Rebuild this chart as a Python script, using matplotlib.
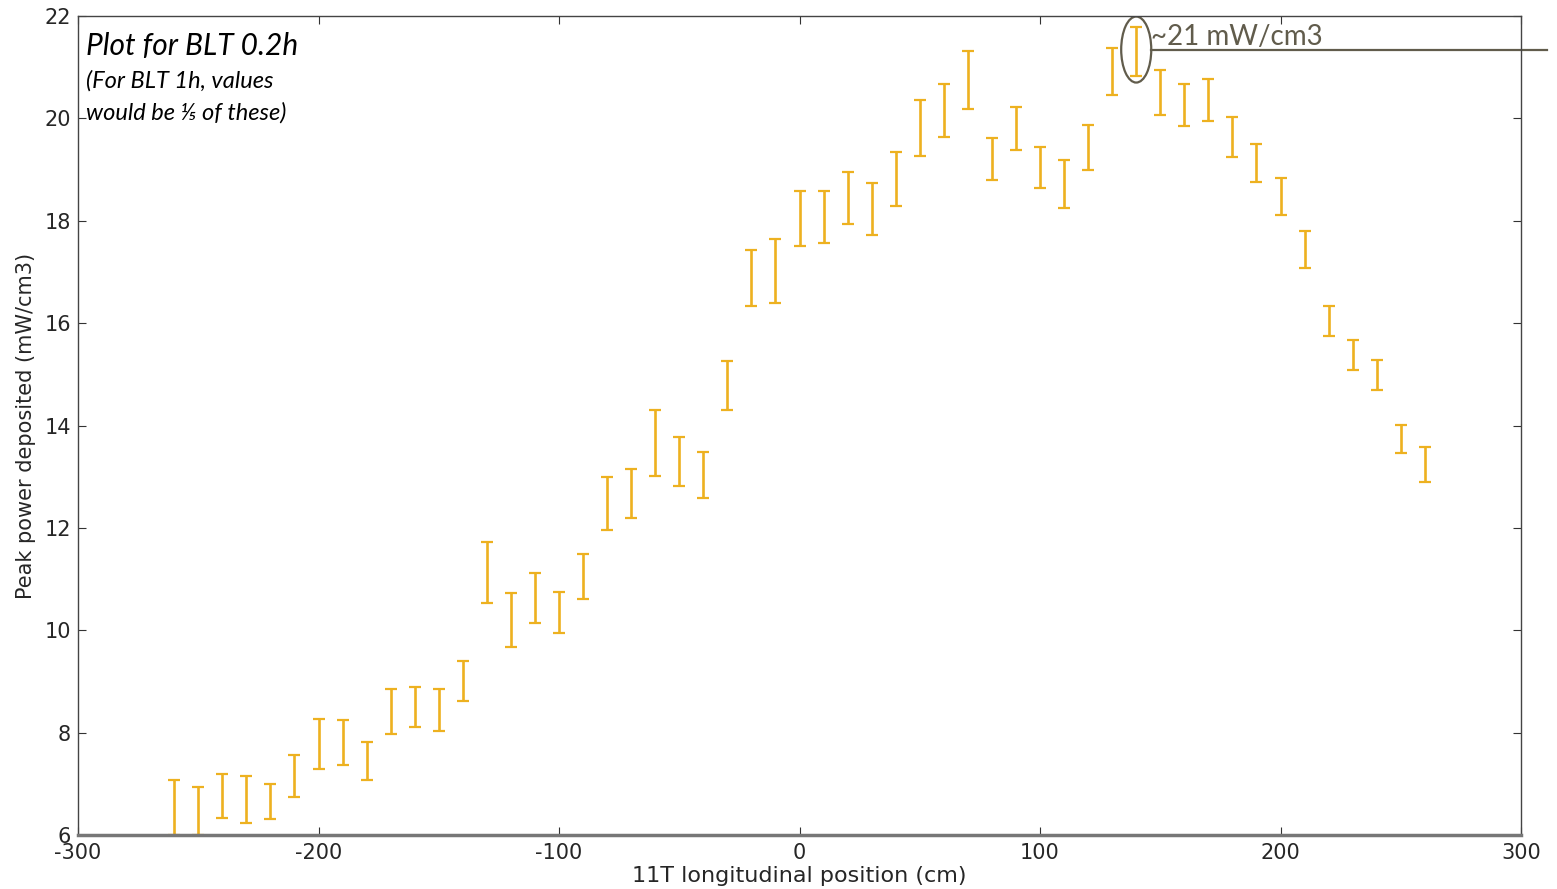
"""
Peak power deposited along the 11T magnet, BLT 0.2h
"""
import numpy as np
from matplotlib import pyplot as plt
from matplotlib.patches import Ellipse

# positions along the magnet (cm)
position = [-260, -250, -240, -230, -220, -210, -200, -190, -180, -170,
            -160, -150, -140, -130, -120, -110, -100, -90, -80, -70,
            -60, -50, -40, -30, -20, -10, 0, 10, 20, 30,
            40, 50, 60, 70, 80, 90, 100, 110, 120, 130,
            140, 150, 160, 170, 180, 190, 200, 210, 220, 230,
            240, 250, 260]

# upper / lower ends of each error bar (mW/cm3)
upper = [7.08, 6.94, 7.19, 7.15, 7.00, 7.56, 8.27, 8.25, 7.82, 8.85,
         8.89, 8.85, 9.40, 11.73, 10.73, 11.11, 10.75, 11.49, 13.00, 13.15,
         14.30, 13.77, 13.49, 15.26, 17.43, 17.64, 18.59, 18.59, 18.95, 18.74,
         19.34, 20.36, 20.67, 21.32, 19.62, 20.22, 19.44, 19.18, 19.88, 21.38,
         21.78, 20.95, 20.67, 20.77, 20.02, 19.49, 18.83, 17.80, 16.34, 15.68,
         15.28, 14.01, 13.59]
lower = [6.00, 6.00, 6.33, 6.24, 6.31, 6.74, 7.29, 7.37, 7.08, 7.97,
         8.11, 8.03, 8.62, 10.53, 9.68, 10.14, 9.94, 10.61, 11.95, 12.19,
         13.01, 12.81, 12.58, 14.30, 16.33, 16.40, 17.51, 17.57, 17.94, 17.72,
         18.29, 19.27, 19.64, 20.18, 18.80, 19.38, 18.64, 18.25, 19.00, 20.46,
         20.83, 20.07, 19.85, 19.95, 19.25, 18.76, 18.11, 17.07, 15.74, 15.08,
         14.69, 13.47, 12.90]

x_ticks = [-300, -200, -100, 0, 100, 200, 300]
y_ticks = [6, 8, 10, 12, 14, 16, 18, 20, 22]

# highlighted peak
peak_x = 140
peak_label = "~21 mW/cm3"

bar_color = '#EDB120'
note_color = '#615c4c'
note_font = ['Lato', 'DejaVu Sans']

x = np.array(position)
hi = np.array(upper)
lo = np.array(lower)
mid = (hi + lo) / 2
err = (hi - lo) / 2

fig = plt.figure(figsize=(15.57, 8.89), dpi=100)
ax = fig.add_axes([0.0501, 0.0607, 0.9268, 0.9213])

ax.errorbar(x, mid, yerr=err, fmt='none', ecolor=bar_color,
            elinewidth=1.9, capsize=4.5, capthick=1.6)

ax.set_xlim(-300, 300)
ax.set_ylim(6, 22)
ax.set_xticks(x_ticks)
ax.set_yticks(y_ticks)
ax.set_xticklabels([str(t) for t in x_ticks])
ax.tick_params(direction='in', top=True, right=True, length=6,
               labelsize=15, labelcolor='#262626', color='#333333')
ax.tick_params(axis='x', pad=6)
ax.tick_params(axis='y', pad=5)
for side in ['top', 'left', 'right']:
    ax.spines[side].set_color('#444444')
    ax.spines[side].set_linewidth(1.0)
ax.spines['bottom'].set_color('#777777')
ax.spines['bottom'].set_linewidth(2.5)

ax.set_xlabel("11T longitudinal position (cm)", fontsize=16, color='#262626', labelpad=2)
ax.set_ylabel("Peak power deposited (mW/cm3)", fontsize=15, color='#262626', labelpad=6)

# notes in the upper left corner
ax.text(0.0055, 0.9524, "Plot for BLT 0.2h", transform=ax.transAxes,
        fontsize=21.5, style='italic', family=note_font,
        va='baseline', ha='left', color='black')
ax.text(0.0055, 0.912, "(For BLT 1h, values", transform=ax.transAxes,
        fontsize=17, style='italic', family=note_font,
        va='baseline', ha='left', color='black')
ax.text(0.0055, 0.873, "would be \u2155 of these)", transform=ax.transAxes,
        fontsize=17, style='italic', family=note_font,
        va='baseline', ha='left', color='black')

# circled peak and its callout
peak_i = position.index(peak_x)
peak_mid = mid[peak_i] + 0.04
ax.add_patch(Ellipse((peak_x, peak_mid), 12.5, 1.29, fill=False,
                     edgecolor=note_color, linewidth=1.6))
ax.plot([peak_x + 6.0, 311], [peak_mid, peak_mid], color=note_color,
        linewidth=1.6, clip_on=False)
ax.text(peak_x + 6.3, peak_mid + 0.08, peak_label, fontsize=20,
        family=note_font, color=note_color, va='baseline', ha='left')

fig.savefig('out.png', dpi=100)
plt.close(fig)
